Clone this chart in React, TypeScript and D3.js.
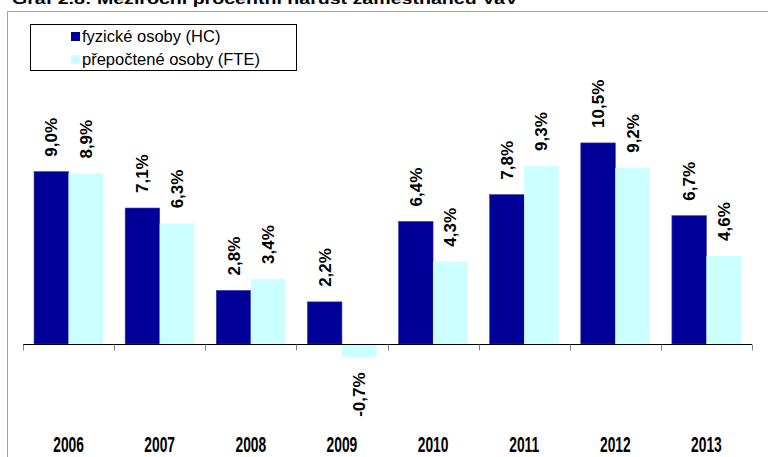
import React from "react";
import * as d3 from "d3";

const years = ["2006", "2007", "2008", "2009", "2010", "2011", "2012", "2013"];
const hcValues = [9.0, 7.1, 2.8, 2.2, 6.4, 7.8, 10.5, 6.7];
const fteValues = [8.9, 6.3, 3.4, -0.7, 4.3, 9.3, 9.2, 4.6];
const seriesNames = ["fyzické osoby (HC)", "přepočtené osoby (FTE)"];
const seriesColors = ["#000099", "#CCFFFF"];
const title = "Graf 2.8: Meziroční procentní nárůst zaměstnanců VaV";

const W = 768;
const H = 457;
const FONT = "'Liberation Sans', Arial, sans-serif";

export default function App() {
  const x = d3.scaleBand<string>().domain(years).range([23, 752]).paddingInner(0).paddingOuter(0);
  const xs = d3.scaleBand<number>().domain([0, 1]).range([0, x.bandwidth()]).paddingInner(0).paddingOuter(0.32);
  const y = d3.scaleLinear().domain([-5, 12]).range([439.75, 114.2]);
  const y0 = Math.round(y(0)) + 0.5;

  const series = [hcValues, fteValues];
  const fmt = (v: number) => v.toFixed(1).replace(".", ",") + "%";
  const ticks = years.map((yr) => x(yr)!).concat([x.range()[1]]);

  return (
    <div style={{ position: "fixed", left: 0, top: 0, width: W, height: H, background: "#fff" }}>
      <svg width={W} height={H} style={{ display: "block" }} fontFamily={FONT}>
        <text x={12} y={4} fontSize={15} fontWeight="bold" textLength={506} lengthAdjust="spacingAndGlyphs">
          {title}
        </text>
        <line x1={7.5} x2={W} y1={11.5} y2={11.5} stroke="#a0a0a0" />
        <line x1={7.5} x2={7.5} y1={11.5} y2={H} stroke="#a0a0a0" />

        {series.map((vals, si) =>
          vals.map((v, i) => {
            const bx = x(years[i])! + xs(si)!;
            const bw = xs.bandwidth();
            const top = Math.min(y(v), y(0));
            const h = Math.abs(y(v) - y(0));
            return (
              <rect
                key={`b${si}-${i}`}
                x={bx}
                y={top}
                width={bw}
                height={h}
                fill={seriesColors[si]}
                stroke={si === 0 ? "#3a3aa8" : "none"}
                strokeWidth={0.6}
              />
            );
          })
        )}

        <line x1={23} x2={752} y1={y0} y2={y0} stroke="#000" />
        {ticks.map((t, i) => (
          <line key={`t${i}`} x1={Math.round(t) + 0.5} x2={Math.round(t) + 0.5} y1={y0} y2={y0 + 6} stroke="#808080" />
        ))}

        {series.map((vals, si) =>
          vals.map((v, i) => {
            const cx = x(years[i])! + xs(si)! + xs.bandwidth() / 2;
            const pos = v >= 0;
            const ay = pos ? y(v) - 15 : y(v) + 15;
            return (
              <text
                key={`l${si}-${i}`}
                transform={`translate(${cx + 6},${ay}) rotate(-90)`}
                textAnchor={pos ? "start" : "end"}
                fontSize={17}
                fontWeight="bold"
                fill="#000"
              >
                {fmt(v)}
              </text>
            );
          })
        )}

        {years.map((yr) => (
          <text
            key={`y${yr}`}
            transform={`translate(${x(yr)! + x.bandwidth() / 2},452) scale(0.92,1.45)`}
            textAnchor="middle"
            fontSize={15}
            fontWeight="bold"
          >
            {yr}
          </text>
        ))}

        <rect x={30.5} y={24.5} width={266} height={46} fill="#fff" stroke="#000" />
        {seriesNames.map((n, i) => (
          <g key={`lg${i}`}>
            <rect x={71} y={32 + i * 23} width={9} height={9} fill={seriesColors[i]} />
            <text x={82} y={42 + i * 23} fontSize={16.5} fill="#000">
              {n}
            </text>
          </g>
        ))}
      </svg>
    </div>
  );
}
